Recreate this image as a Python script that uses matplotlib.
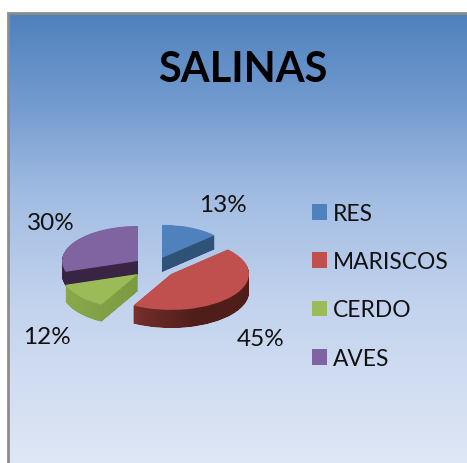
import numpy as np
import matplotlib
matplotlib.use("Agg")
import matplotlib.pyplot as plt
from matplotlib.path import Path
from matplotlib.patches import Patch, Rectangle
from matplotlib.colors import LinearSegmentedColormap as LSC

title = "SALINAS"
categories = ["RES", "MARISCOS", "CERDO", "AVES"]
values = [13, 45, 12, 30]
colors = ["#4f81bd", "#c0504d", "#9bbb59", "#8064a2"]

W, H = 467, 464
K = 76 / 35  # vertical squash of the tilted pie
plt.rcParams['font.family'] = ['Lato', 'DejaVu Sans']

fig = plt.figure(figsize=(W / 100, H / 100), dpi=100, facecolor="white")
ax = fig.add_axes([0, 0, 1, 1])


def Y(py):
    return (H - py) * K


wedges, _ = ax.pie(values, startangle=90, counterclock=False, radius=76, colors=colors,
                   wedgeprops=dict(linewidth=0))
ax.set_aspect("auto")
ax.set_xlim(0, W)
ax.set_ylim(0, H * K)
ax.axis("off")

# background panel
bg = LSC.from_list("bg", [(0, "#4f81bd"), (0.2, "#739bcf"), (0.4, "#a1bce2"),
                          (0.65, "#c3d3ee"), (1, "#dfe7f5")])
ax.imshow(np.linspace(0, 1, 256)[:, None], cmap=bg, aspect="auto", zorder=0,
          extent=(9, W, Y(H), Y(15)), origin="upper")
ax.add_patch(Rectangle((8, Y(H + 10)), W, Y(14) - Y(H + 10), fc="none", ec="#8c8c8c", lw=2, zorder=1))

# layout of each exploded slice: centre px, radius, depth, side gradient
layout = [
    ((162, 259), 72, 14, ["#2f5277", "#2f5277"]),
    ((171, 275), 78, 18, ["#a8403c", "#6e2b28", "#4f1e1a", "#4f1e1a"]),
    ((138, 275), 76, 17, ["#8aa84c", "#7b9a42", "#6f8c3a"]),
    ((138, 262), 76, 14, ["#3a2444", "#3a2444"]),
]
draw_order = [0, 1, 3, 2]
xx = np.linspace(0, 1, 128)[None, :]
for z, i in enumerate(draw_order):
    (cx, cy), r, depth, stops = layout[i]
    w = wedges[i]
    w.set_center((cx, Y(cy)))
    w.set_radius(r)
    w.set_zorder(3 + 2 * z + 1)
    base = w.get_path()
    paths = [Path(base.vertices - [0, d * K], base.codes) for d in np.arange(0.5, depth + 0.5, 0.5)]
    comp = Path.make_compound_path(*paths)
    im = ax.imshow(xx, cmap=LSC.from_list("s%d" % i, stops), aspect="auto", zorder=3 + 2 * z,
                   extent=(cx - r, cx + r, Y(cy + 45 + depth), Y(cy - 45)))
    im.set_clip_path(comp, transform=ax.transData)

ax.set_xlim(0, W)
ax.set_ylim(0, H * K)

ax.text(243, Y(70), title, fontsize=30, fontweight="bold", ha="center", va="center", color="black", zorder=20)

label_pos = [(223, 206), (261, 340), (47, 338), (51, 224)]
for v, (x, y) in zip(values, label_pos):
    ax.text(x, Y(y), f"{v}%", fontsize=17.5, ha="center", va="center", color="#111111", zorder=20)

handles = [Patch(fc=c, ec="none") for c in colors]
leg = ax.legend(handles, categories, loc="upper left", bbox_to_anchor=(305 / W, 1 - 197 / H),
                frameon=False, fontsize=16.4, handlelength=0.68, handleheight=0.68,
                handletextpad=0.26, labelspacing=1.2, borderpad=0.3, borderaxespad=0,
                labelcolor="#111111")
leg.set_zorder(20)

fig.savefig("out.png", dpi=100)
